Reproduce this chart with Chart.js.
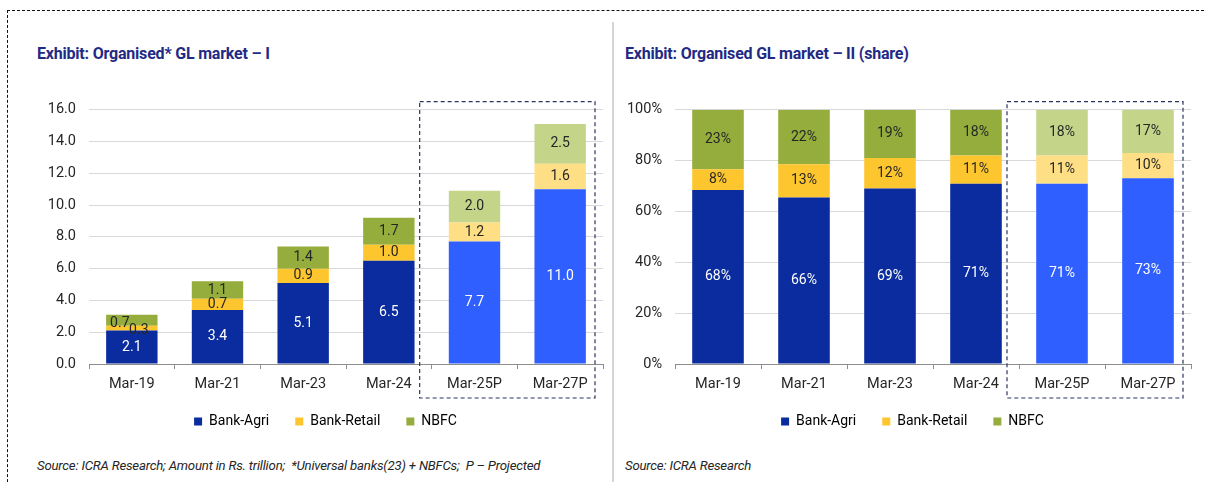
<!DOCTYPE html>
<html>
<head>
<meta charset="utf-8">
<script src="https://cdn.jsdelivr.net/npm/chart.js@4.4.1/dist/chart.umd.min.js"></script>
<style>
  html, body { margin: 0; padding: 0; background: #fff; }
  body { width: 1205px; height: 482px; position: relative; overflow: hidden; font-family: Roboto, "Open Sans", sans-serif; }
  .frame { position: absolute; left: 7px; top: 10px; width: 1230px; height: 520px; border: 1.5px dashed #111; }
  .divider { position: absolute; left: 612px; top: 22px; width: 2px; height: 470px; background: #d6d6d6; }
  .title { position: absolute; top: 44px; font-weight: bold; font-size: 16px; color: #1f2a85; letter-spacing: -0.2px; }
  .source { position: absolute; top: 458px; font-style: italic; font-size: 13.2px; color: #262626; letter-spacing: -0.2px; }
  canvas { position: absolute; }
</style>
</head>
<body>
<div class="frame"></div>
<div class="divider"></div>
<div class="title" style="left:37px">Exhibit: Organised* GL market – I</div>
<div class="title" style="left:625px">Exhibit: Organised GL market – II (share)</div>
<div style="position:absolute;left:20px;top:88px;width:590px;height:356px"><canvas id="chartLeft"></canvas></div>
<div style="position:absolute;left:606px;top:88px;width:598px;height:356px"><canvas id="chartRight"></canvas></div>
<div class="source" style="left:37px">Source: ICRA Research; Amount in Rs. trillion;&nbsp; *Universal banks(23) + NBFCs;&nbsp; P – Projected</div>
<div class="source" style="left:625px">Source: ICRA Research</div>

<script>
// data
const categories = ['Mar-19', 'Mar-21', 'Mar-23', 'Mar-24', 'Mar-25P', 'Mar-27P'];
const seriesNames = ['Bank-Agri', 'Bank-Retail', 'NBFC'];

// Rs. trillion
const amtAgri   = [2.1, 3.4, 5.1, 6.5, 7.7, 11.0];
const amtRetail = [0.3, 0.7, 0.9, 1.0, 1.2, 1.6];
const amtNbfc   = [0.7, 1.1, 1.4, 1.7, 2.0, 2.5];

// share, %
const shareAgri   = [68.4, 65.5, 69.0, 70.9, 70.9, 73.0];
const shareRetail = [8.2, 13.0, 12.0, 11.1, 11.1, 10.0];
const shareNbfc   = [23.4, 21.5, 19.0, 18.0, 18.0, 17.0];

const amtTicks = [0, 2, 4, 6, 8, 10, 12, 14, 16];
const shareTicks = [0, 20, 40, 60, 80, 100];

const firstProjected = 4;

// colours: actual / projected
const palette = [
  { solid: '#0a2c9e', light: '#2f5fff', label: '#ffffff' },
  { solid: '#fec62e', light: '#ffdf85', label: '#262626' },
  { solid: '#95ad3c', light: '#c4d58a', label: '#262626' }
];

const FONT = 'Roboto, "Open Sans", sans-serif';
const LEGEND_PAD = 26;

function makeDatasets(arrays) {
  return arrays.map((vals, i) => ({
    label: seriesNames[i],
    data: vals,
    backgroundColor: categories.map((c, j) => j >= firstProjected ? palette[i].light : palette[i].solid),
    borderWidth: 0,
    barPercentage: 0.6,
    categoryPercentage: 1.0,
    stack: 's'
  }));
}

// value labels in middle of every segment
const segLabels = {
  id: 'segLabels',
  afterDatasetsDraw(chart, args, opts) {
    const ctx = chart.ctx;
    ctx.save();
    ctx.font = '14px ' + FONT;
    ctx.textAlign = 'center';
    ctx.textBaseline = 'middle';
    const n = chart.data.labels.length;
    for (let j = 0; j < n; j++) {
      const pts = chart.data.datasets.map((ds, i) => {
        const el = chart.getDatasetMeta(i).data[j];
        return { x: el.x, y: (el.y + el.base) / 2, i: i, v: ds.data[j] };
      });
      // small segments crowd each other: push them sideways
      if (Math.abs(pts[2].y - pts[1].y) < 13) {
        pts[2].x -= 12; pts[2].y += 3;
        pts[1].x += 7; pts[1].y += 2;
      }
      pts.forEach(p => {
        ctx.fillStyle = palette[p.i].label;
        ctx.fillText(opts.fmt(p.v), p.x, p.y);
      });
    }
    ctx.restore();
  }
};

// dashed box round the projected years
const projBox = {
  id: 'projBox',
  afterDraw(chart) {
    const x = chart.scales.x;
    const step = x.getPixelForValue(1) - x.getPixelForValue(0);
    const left = x.getPixelForValue(firstProjected) - step / 2 - 12;
    const right = chart.chartArea.right - 8;
    const top = chart.chartArea.top - 8;
    const bottom = chart.chartArea.bottom + 34;
    const ctx = chart.ctx;
    ctx.save();
    ctx.strokeStyle = '#2b3560';
    ctx.lineWidth = 1.2;
    ctx.setLineDash([4, 3]);
    ctx.strokeRect(left, top, right - left, bottom - top);
    ctx.restore();
  }
};

// nudge the legend row (centre and height as in the original)
const legendShift = {
  id: 'legendShift',
  afterLayout(chart, args, opts) {
    const lg = chart.legend;
    if (!lg) return;
    const h = lg.bottom - lg.top;
    lg.left += opts.dx;
    lg.right += opts.dx;
    lg.top = chart.chartArea.bottom + 59 - LEGEND_PAD - 8.5;
    lg.bottom = lg.top + h;
  }
};

function buildChart(id, arrays, ticks, tickFmt, labelFmt, padRight, dx) {
  return new Chart(document.getElementById(id), {
    type: 'bar',
    data: { labels: categories, datasets: makeDatasets(arrays) },
    options: {
      responsive: true, maintainAspectRatio: false, animation: false,
      layout: { padding: { top: 6, bottom: 2, left: 0, right: padRight } },
      plugins: {
        legend: {
          position: 'bottom',
          labels: {
            boxWidth: 8, boxHeight: 8, padding: LEGEND_PAD, color: '#262626',
            font: { family: FONT, size: 14 },
            generateLabels: (chart) => seriesNames.map((n, i) => ({
              text: n, fillStyle: palette[i].solid, strokeStyle: palette[i].solid,
              lineWidth: 0, datasetIndex: i, hidden: false
            }))
          }
        },
        tooltip: { enabled: false },
        segLabels: { fmt: labelFmt },
        legendShift: { dx: dx }
      },
      scales: {
        x: {
          stacked: true,
          grid: { display: true, drawOnChartArea: false, offset: true, tickLength: 5, color: '#8c8c8c' },
          border: { color: '#8c8c8c', width: 1 },
          ticks: { color: '#262626', font: { family: FONT, size: 14.5 }, padding: 7 },
          afterFit: (s) => { s.height = 28; }
        },
        y: {
          stacked: true, min: 0, max: ticks[ticks.length - 1],
          afterBuildTicks: (s) => { s.ticks = ticks.map(v => ({ value: v })); },
          grid: { color: '#d9d9d9', drawTicks: false },
          border: { display: false },
          ticks: { color: '#262626', font: { family: FONT, size: 14.5 }, padding: 13, callback: tickFmt },
          afterFit: (s) => { s.width = 69; }
        }
      }
    },
    plugins: [segLabels, projBox, legendShift]
  });
}

buildChart('chartLeft', [amtAgri, amtRetail, amtNbfc], amtTicks,
  v => v.toFixed(1), v => v.toFixed(1), 7, 14);
buildChart('chartRight', [shareAgri, shareRetail, shareNbfc], shareTicks,
  v => v + '%', v => Math.round(v) + '%', 13, 14);
</script>
</body>
</html>
